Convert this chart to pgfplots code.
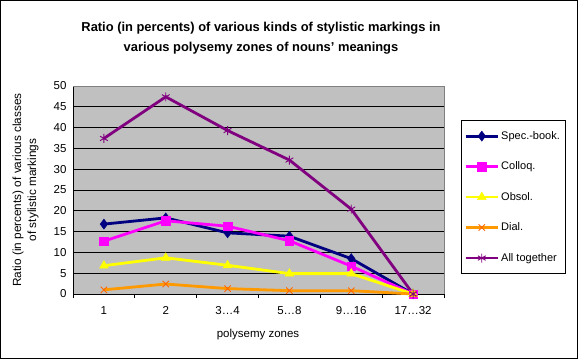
\documentclass[border=0pt]{standalone}
\usepackage{fontspec}
\setmainfont{Liberation Sans}
\usepackage{pgfplots}
\pgfplotsset{compat=1.18}
\definecolor{plotgray}{HTML}{C0C0C0}
\definecolor{cnavy}{HTML}{000080}
\definecolor{cmag}{HTML}{FF00FF}
\definecolor{cyel}{HTML}{FFFF00}
\definecolor{corange}{HTML}{FF9900}
\definecolor{cored}{HTML}{FF6600}
\definecolor{cpurple}{HTML}{800080}
\begin{document}
\begin{tikzpicture}
\useasboundingbox (0pt,0pt) rectangle (578pt,359pt);
\draw[black,line width=1pt] (0.5pt,0.5pt) rectangle (577.5pt,358.5pt);
\node[align=center,font=\fontsize{12.9}{20}\selectfont\bfseries] at (261pt,321pt) {Ratio (in percents) of various kinds of stylistic markings in\\various polysemy zones of nouns' meanings};
\node[rotate=90,align=center,font=\fontsize{11.8}{15}\selectfont] at (25.5pt,169pt) {Ratio (in percents) of various classes\\of stylistic markings};
\node[font=\fontsize{11.5}{13}\selectfont] at (258pt,24pt) {polysemy zones};
\begin{axis}[
  at={(73pt,65pt)}, anchor=south west,
  scale only axis, width=371pt, height=208pt,
  xmin=0.5, xmax=6.5, ymin=0, ymax=50,
  ytick={0,5,...,50},
  xtick={1,2,3,4,5,6},
  xticklabels={1,2,3\ldots4,5\ldots8,9\ldots16,17\ldots32},
  extra x ticks={0.5,1.5,2.5,3.5,4.5,5.5,6.5},
  extra x tick labels={},
  extra x tick style={major tick length=4pt, tick style={black, line width=0.8pt}, xtick pos=bottom, tick align=outside},
  major tick length=0pt,
  axis x line*=bottom, axis y line*=left,
  axis line style={black, line width=0.8pt, -},
  ymajorgrids, grid style={black, line width=0.8pt},
  y tick style={black, line width=0.8pt},
  ytick pos=left,
  every tick label/.append style={font=\fontsize{11.5}{13}\selectfont},
  /pgf/number format/assume math mode=true,
  yticklabel style={xshift=-3pt},
  xticklabel style={yshift=-9pt},
  axis background/.style={fill=plotgray},
  legend style={at={(1.0458,0.8365)}, anchor=north west, draw=black, line width=0.8pt, fill=white,
    font=\fontsize{11}{13}\selectfont, inner xsep=3pt, inner ysep=9pt, row sep=17pt, legend cell align=left},
  legend image code/.code={\draw[mark repeat=2,mark phase=2] plot coordinates {(0pt,0pt)(16pt,0pt)(32pt,0pt)};},
  every axis plot/.append style={line width=2.8pt},
  clip=false,
]
\addplot[color=cnavy, mark=diamond*, mark size=5pt, mark options={solid,line width=0.5pt}] coordinates {(1,16.8)(2,18.3)(3,14.7)(4,13.9)(5,8.5)(6,0)};
\addlegendentry{Spec.-book.}
\addplot[color=cmag, mark=square*, mark size=4.2pt, mark options={solid,line width=0.5pt}] coordinates {(1,12.7)(2,17.6)(3,16.3)(4,12.8)(5,6.7)(6,0)};
\addlegendentry{Colloq.}
\addplot[color=cyel, mark=triangle*, mark size=5pt, mark options={solid,line width=0.5pt}] coordinates {(1,6.8)(2,8.7)(3,6.9)(4,4.9)(5,4.9)(6,0)};
\addlegendentry{Obsol.}
\addplot[color=corange, mark=x, mark size=4.5pt, mark options={solid,line width=0.9pt,draw=cored}] coordinates {(1,1.0)(2,2.4)(3,1.3)(4,0.8)(5,0.8)(6,0)};
\addlegendentry{Dial.}
\addplot[color=cpurple, mark=asterisk, mark size=4.5pt, mark options={solid,line width=0.9pt}] coordinates {(1,37.4)(2,47.4)(3,39.3)(4,32.2)(5,20.4)(6,0)};
\addlegendentry{All together}
\draw[gray,line width=0.8pt] (rel axis cs:0,1) -- (rel axis cs:1,1) -- (rel axis cs:1,0);
\end{axis}
\end{tikzpicture}
\end{document}
